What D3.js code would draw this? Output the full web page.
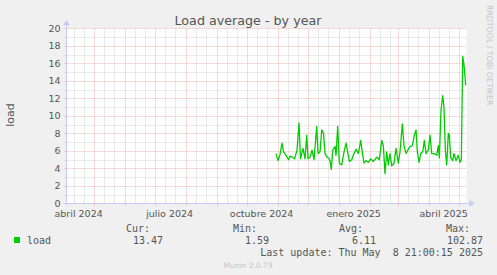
<!DOCTYPE html>
<html>
<head>
<meta charset="utf-8">
<script src="https://cdn.jsdelivr.net/npm/d3@7"></script>
<style>
  body { margin: 0; background: #f0f0f0; }
  svg { display: block; }
</style>
</head>
<body>
<div id="chart"></div>
<script>
// Load average - by year (munin)
var firstDay = Date.UTC(2024, 9, 30)   // 2024-10-30, first sample
var dayOffset = [0.4, 2.4, 4.4, 6.4, 7.9, 10.4, 12.9, 14.4, 16.4, 18.9, 21.4, 23.4, 24.9, 27.4, 29.4,
  31.1, 32.4, 34.4, 36.4, 38.4, 41.1, 42.4, 44.4, 46.1, 47.9, 49.4, 51.4, 52.9, 54.4, 55.7, 57.1,
  59.4, 60.4, 62.1, 63.7, 66.1, 68.4, 70.4, 71.7, 73.7, 76.1, 77.7, 80.4, 82.7, 85.1, 87.1, 88.4,
  90.4, 92.7, 95.1, 97.7, 101.1, 103.7, 106.1, 107.7, 109.4, 111.1, 112.7, 114.4, 116.1, 118.4,
  120.4, 122.7, 124.4, 126.7, 128.4, 130.4, 132.7, 134.4, 136.7, 138.7, 140.4, 141.7, 143.4,
  145.1, 147.1, 148.7, 150.4, 152.7, 154.4, 156.1, 158.4, 161.1, 162.7, 163.7, 165.4, 167.1,
  168.4, 169.7, 171.1, 172.7, 173.7, 175.1, 177.1, 178.4, 180.4, 182.7, 184.4, 185.7, 187.1,
  188.4, 190.1]
var loadValues = [5.7, 4.9, 5.6, 6.9, 5.9, 5.5, 5.0, 5.4, 5.3, 5.1, 6.1, 9.2, 5.1, 6.3, 5.1,
  7.8, 5.1, 5.3, 6.1, 5.0, 8.8, 5.7, 5.9, 8.4, 8.0, 5.7, 5.3, 5.2, 4.9, 3.9, 6.1,
  6.5, 5.5, 8.8, 4.6, 4.4, 5.9, 6.9, 6.1, 4.8, 5.0, 5.5, 6.2, 5.7, 7.2, 5.5, 4.6,
  4.9, 4.7, 5.1, 4.8, 5.3, 5.0, 7.2, 6.6, 3.4, 5.9, 4.4, 5.7, 4.3, 4.6,
  6.3, 4.6, 5.9, 9.1, 6.6, 5.7, 6.2, 6.5, 6.6, 7.8, 8.4, 5.9, 4.7,
  5.7, 5.9, 7.2, 5.7, 6.1, 7.8, 5.7, 5.7, 5.5, 6.6, 5.2, 10.7, 12.3,
  10.9, 6.1, 4.4, 8.0, 7.8, 5.2, 4.9, 5.7, 4.9, 5.5, 4.7, 5.0, 16.8,
  15.8, 13.5]

var yTicks = [0, 2, 4, 6, 8, 10, 12, 14, 16, 18, 20]
var monthNames = ["enero", "febrero", "marzo", "abril", "mayo", "junio", "julio",
  "agosto", "septiembre", "octubre", "noviembre", "diciembre"]
var legendHead = ["Cur:", "Min:", "Avg:", "Max:"]
var legendVals = ["13.47", "1.59", "6.11", "102.87"]
var lastUpdate = "Last update: Thu May  8 21:00:15 2025"

var W = 497, H = 275
var plotL = 66.5, plotR = 466.5, plotT = 28.3, plotB = 203.5
var endT = new Date(Date.UTC(2025, 4, 8, 21, 0, 15))
var startT = new Date(endT.getTime() - 400 * 864e5)

var svg = d3.select("#chart").append("svg")
  .attr("width", W).attr("height", H)
  .style("font-family", "'DejaVu Sans', sans-serif")

svg.append("rect").attr("width", W).attr("height", H).attr("fill", "#f0f0f0")

var x = d3.scaleUtc().domain([startT, endT]).range([plotL, plotR])
var y = d3.scaleLinear().domain([0, 20]).range([plotB, plotT])

// plot area
svg.append("rect")
  .attr("x", plotL).attr("y", plotT)
  .attr("width", plotR - plotL).attr("height", plotB - plotT)
  .attr("fill", "white")

var gridGrey = "#d4d4d4", gridRed = "#eeb4b4"

// minor grid
var minorY = d3.range(1, 21, 2)
svg.selectAll("line.ymin").data(minorY).enter().append("line")
  .attr("x1", plotL - 2).attr("x2", plotR)
  .attr("y1", function(d) { return Math.round(y(d)) + 0.5 })
  .attr("y2", function(d) { return Math.round(y(d)) + 0.5 })
  .attr("stroke", gridGrey).attr("stroke-dasharray", "1,1")

var months = d3.utcMonth.range(startT, endT)
var minorX = []
d3.utcMonth.range(d3.utcMonth.floor(startT), endT).forEach(function(m) {
  [10, 20].forEach(function(k) {
    var t = d3.utcDay.offset(m, k)
    if (t > startT && t < endT) minorX.push(t)
  })
})
svg.selectAll("line.xmin").data(minorX).enter().append("line")
  .attr("x1", function(d) { return Math.round(x(d)) + 0.5 })
  .attr("x2", function(d) { return Math.round(x(d)) + 0.5 })
  .attr("y1", plotT).attr("y2", plotB)
  .attr("stroke", gridGrey).attr("stroke-dasharray", "1,1")

// major grid
svg.selectAll("line.ymaj").data(yTicks.slice(1)).enter().append("line")
  .attr("x1", plotL - 2).attr("x2", plotR)
  .attr("y1", function(d) { return Math.round(y(d)) + 0.5 })
  .attr("y2", function(d) { return Math.round(y(d)) + 0.5 })
  .attr("stroke", gridRed).attr("stroke-dasharray", "1,1")

svg.selectAll("line.xmaj").data(months).enter().append("line")
  .attr("x1", function(d) { return Math.round(x(d)) + 0.5 })
  .attr("x2", function(d) { return Math.round(x(d)) + 0.5 })
  .attr("y1", plotT).attr("y2", plotB + 3)
  .attr("stroke", gridRed).attr("stroke-dasharray", "1,1")

// axes
var axisCol = "#c8c8f8"
svg.append("line").attr("x1", plotL - 2).attr("x2", plotR + 3)
  .attr("y1", plotB).attr("y2", plotB).attr("stroke", axisCol)
svg.append("line").attr("x1", plotL).attr("x2", plotL)
  .attr("y1", plotB + 2).attr("y2", plotT - 3).attr("stroke", axisCol)
svg.append("path")
  .attr("d", "M" + (plotR + 3) + "," + (plotB - 3.5) + "l5,3.5l-5,3.5z")
  .attr("fill", axisCol)
svg.append("path")
  .attr("d", "M" + (plotL - 3.5) + "," + (plotT - 3) + "l3.5,-5l3.5,5z")
  .attr("fill", axisCol)

// y labels
svg.selectAll("text.ytick").data(yTicks).enter().append("text")
  .attr("x", plotL - 6)
  .attr("y", function(d) { return y(d) + 3.5 })
  .attr("text-anchor", "end")
  .attr("font-size", "9.5px").attr("fill", "#555")
  .text(function(d) { return d })

// x labels: quarter starts, centered half a month later
var quarters = d3.utcMonth.every(3).range(d3.utcMonth.offset(startT, -3), endT)
svg.selectAll("text.xtick").data(quarters.filter(function(q) {
    var c = x(d3.utcDay.offset(q, 15)); return c > plotL && c < plotR
  })).enter().append("text")
  .attr("x", function(d) { return x(d3.utcDay.offset(d, 15)) })
  .attr("y", plotB + 13)
  .attr("text-anchor", "middle")
  .attr("font-size", "9.5px").attr("fill", "#555")
  .text(function(d) { return monthNames[d.getUTCMonth()] + " " + d.getUTCFullYear() })

// series
var data = dayOffset.map(function(d, i) {
  return { t: new Date(firstDay + d * 864e5), v: loadValues[i] }
})
svg.append("path")
  .datum(data)
  .attr("fill", "none")
  .attr("stroke", "#00cc00")
  .attr("stroke-width", 1.3)
  .attr("stroke-linejoin", "round")
  .attr("d", d3.line().x(function(d) { return x(d.t) }).y(function(d) { return y(d.v) }))

// title and side texts
svg.append("text").attr("x", 248).attr("y", 25)
  .attr("text-anchor", "middle").attr("font-size", "12.7px").attr("fill", "#555")
  .text("Load average - by year")
svg.append("text")
  .attr("transform", "translate(14,115) rotate(-90)")
  .attr("text-anchor", "middle").attr("font-size", "11px").attr("fill", "#555")
  .text("load")
svg.append("text")
  .attr("transform", "translate(487,5) rotate(90)")
  .attr("text-anchor", "start").attr("font-size", "7.8px").attr("fill", "#c4c4c4")
  .text("RRDTOOL / TOBI OETIKER")

// legend
var mono = "'DejaVu Sans Mono', monospace"
var headRight = [150, 257, 363, 470]
var valRight = [163, 269, 376, 483]
svg.selectAll("text.lh").data(legendHead).enter().append("text")
  .attr("x", function(d, i) { return headRight[i] })
  .attr("y", 232)
  .attr("text-anchor", "end").attr("font-family", mono)
  .attr("font-size", "10px").attr("fill", "#555")
  .text(function(d) { return d })
svg.append("rect").attr("x", 14).attr("y", 237).attr("width", 6).attr("height", 6)
  .attr("fill", "#00cc00")
svg.append("text").attr("x", 27).attr("y", 244)
  .attr("font-family", mono).attr("font-size", "10px").attr("fill", "#555")
  .text("load")
svg.selectAll("text.lv").data(legendVals).enter().append("text")
  .attr("x", function(d, i) { return valRight[i] })
  .attr("y", 244)
  .attr("text-anchor", "end").attr("font-family", mono)
  .attr("font-size", "10px").attr("fill", "#555")
  .text(function(d) { return d })
svg.append("text").attr("x", 483).attr("y", 256)
  .attr("text-anchor", "end").attr("font-family", mono)
  .attr("font-size", "10px").attr("fill", "#555")
  .style("white-space", "pre").attr("xml:space", "preserve")
  .text(lastUpdate)
svg.append("text").attr("x", 248).attr("y", 268)
  .attr("text-anchor", "middle").attr("font-size", "7.5px").attr("fill", "#c4c4c4")
  .text("Munin 2.0.73")
</script>
</body>
</html>
